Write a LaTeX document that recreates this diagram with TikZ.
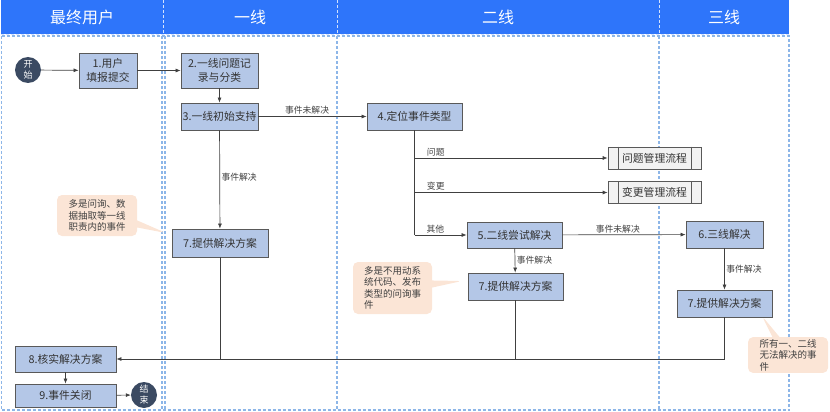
\documentclass[tikz,border=0pt]{standalone}
\usepackage{fontspec}
\setmainfont{Noto Sans CJK SC}
\usetikzlibrary{shapes.callouts,arrows.meta}
\definecolor{hdr}{HTML}{2E75FA}
\definecolor{lanedash}{HTML}{8DB6E8}
\definecolor{boxfill}{HTML}{B4C7E7}
\definecolor{boxline}{HTML}{595959}
\definecolor{lnc}{HTML}{404040}
\definecolor{peach}{HTML}{FBE5D6}
\definecolor{navy}{HTML}{3B4A62}
\definecolor{procfill}{HTML}{F2F2F2}
\tikzset{
  x=1pt,y=-1pt,
  box/.style={draw=boxline,fill=boxfill,line width=0.8pt,align=center,inner sep=1pt,
    font=\fontsize{10.8}{14}\selectfont,text=black!80},
  proc/.style={draw=boxline,fill=procfill,line width=0.7pt,align=center,inner sep=1pt,
    font=\fontsize{10.8}{14}\selectfont,text=black!80},
  term/.style={circle,fill=navy,text=white,minimum size=26pt,inner sep=0pt,align=center,
    font=\fontsize{9}{11}\selectfont},
  conn/.style={draw=lnc,line width=0.7pt},
  arr/.style={conn,-{Latex[length=5pt,width=4pt]}},
  lbl/.style={font=\fontsize{8.8}{10}\selectfont,text=lnc,inner sep=1.5pt},
  callbox/.style={rectangle callout,fill=peach,rounded corners=5pt,align=left,
    font=\fontsize{9.5}{11.5}\selectfont,text=black!75,inner sep=2pt},
  hdrtext/.style={text=white,font=\fontsize{16}{19}\selectfont},
  lanel/.style={draw=lanedash,dashed,dash pattern=on 3pt off 2pt,line width=1.2pt},
}
\begin{document}
\begin{tikzpicture}
\useasboundingbox (0,0) rectangle (830,412);
% headers
\fill[hdr] (1,0) rectangle (789,34);
\draw[white!80!hdr,dashed,dash pattern=on 3pt off 2pt,line width=0.8pt]
  (163,0) -- (163,34) (337,0) -- (337,34) (659,0) -- (659,34)
  (1,34) -- (789,34);
\node[hdrtext] (h1) at (82,17) {最终用户};
\node[hdrtext] (h2) at (250,17) {一线};
\node[hdrtext] (h3) at (498,17) {二线};
\node[hdrtext] (h4) at (724,17) {三线};
% lane bodies
\draw[lanel] (1.5,36) rectangle (789,410);
\draw[lanel] (162,36) -- (162,410);
\draw[lanel] (165,36) -- (165,410);
\draw[lanel] (337,36) -- (337,410);
\draw[lanel] (659,36) -- (659,410);
% nodes
\node[term] (start) at (28,70) {开\\始};
\node[box,minimum width=58pt,minimum height=35pt] (n1) at (108,70.5) {1.用户\\填报提交};
\node[box,minimum width=77pt,minimum height=35pt] (n2) at (219.5,70.5) {2.一线问题记\\录与分类};
\node[box,minimum width=77pt,minimum height=27pt] (n3) at (219.5,116.5) {3.一线初始支持};
\node[box,minimum width=95pt,minimum height=27pt] (n4) at (414.5,116.5) {4.定位事件类型};
\node[proc,minimum width=93pt,minimum height=22pt] (p1) at (654.5,158) {问题管理流程};
\node[proc,minimum width=93pt,minimum height=22pt] (p2) at (654.5,192.5) {变更管理流程};
\draw[boxline,line width=0.7pt] ([xshift=11pt]p1.north west) -- ([xshift=11pt]p1.south west)
  ([xshift=-10pt]p1.north east) -- ([xshift=-10pt]p1.south east)
  ([xshift=11pt]p2.north west) -- ([xshift=11pt]p2.south west)
  ([xshift=-10pt]p2.north east) -- ([xshift=-10pt]p2.south east);
\node[box,minimum width=95pt,minimum height=26pt] (n5) at (514.5,235) {5.二线尝试解决};
\node[box,minimum width=77pt,minimum height=27pt] (n6) at (724.5,234.5) {6.三线解决};
\node[box,minimum width=96pt,minimum height=28pt] (n7a) at (220,243) {7.提供解决方案};
\node[box,minimum width=95pt,minimum height=27pt] (n7b) at (515.5,286.5) {7.提供解决方案};
\node[box,minimum width=95pt,minimum height=27pt] (n7c) at (724.5,303.5) {7.提供解决方案};
\node[box,minimum width=101pt,minimum height=26pt] (n8) at (65.5,359) {8.核实解决方案};
\node[box,minimum width=101pt,minimum height=23pt] (n9) at (65.5,395.5) {9.事件关闭};
\node[term] (end) at (144,395) {结\\束};
% connectors
\draw[arr] (start) -- (n1);
\draw[arr] (n1) -- (n2);
\draw[arr] (n2) -- (n3);
\draw[arr] (n3) -- node[lbl,above,pos=0.45] {事件未解决} (n4);
\draw[arr] (n3) -- node[lbl,right,pos=0.48] {事件解决} (n7a);
\draw[conn] (n4.south) -- (n4.south |- n5.west);
\draw[arr] (n4.south |- p1.west) -- node[lbl,above,pos=0.11] {问题} (p1.west);
\draw[arr] (n4.south |- p2.west) -- node[lbl,above,pos=0.11] {变更} (p2.west);
\draw[arr] (n4.south |- n5.west) -- node[lbl,above,pos=0.4] {其他} (n5.west);
\draw[arr] (n5) -- node[lbl,above,pos=0.45] {事件未解决} (n6);
\draw[arr] (n5) -- node[lbl,right] {事件解决} (n7b);
\draw[arr] (n6) -- node[lbl,right] {事件解决} (n7c);
\draw[conn] (n7a.south) -- (n7a.south |- n8.east);
\draw[conn] (n7b.south) -- (n7b.south |- n8.east);
\draw[arr] (n7c.south) -- (n7c.south |- n8.east) -- (n8.east);
\draw[arr] (n8) -- (n9);
\draw[arr] (n9) -- (end);
% callouts
\node[callbox,minimum width=80pt,minimum height=41pt,callout absolute pointer={(166,233)}] (ca) at (97,215.5)
  {多是问询、数\\据抽取等一线\\职责内的事件};
\node[callbox,minimum width=79pt,minimum height=52pt,callout absolute pointer={(462,281)}] (cb) at (392.5,288)
  {多是不用动系\\统代码、发布\\类型的问询事\\件};
\node[callbox,minimum width=80pt,minimum height=34pt,callout absolute pointer={(762,316)}] (cc) at (788,355)
  {所有一、二线\\无法解决的事\\件};
\end{tikzpicture}
\end{document}
